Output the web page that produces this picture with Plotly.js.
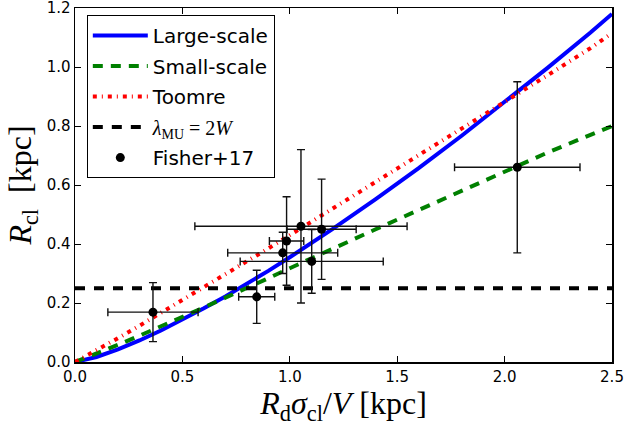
<!DOCTYPE html>
<html>
<head>
<meta charset="utf-8">
<script src="https://cdn.plot.ly/plotly-3.0.1.min.js"></script>
<style>html,body{margin:0;padding:0;background:#fff;}#chart{width:640px;height:428px;}</style>
</head>
<body>
<div id="chart"></div>
<script>
// Model curves
const curveX     = [0, 0.1, 0.2, 0.3, 0.4, 0.5, 0.6, 0.7, 0.8, 0.9, 1.0, 1.2, 1.4, 1.6, 1.8, 2.0, 2.2, 2.4, 2.5];
const largeScale = [0, 0.017, 0.043, 0.073, 0.107, 0.143, 0.182, 0.222, 0.265, 0.309, 0.355, 0.451, 0.552, 0.657, 0.767, 0.880, 0.997, 1.117, 1.18];
const smallScale = [0, 0.028, 0.058, 0.089, 0.120, 0.152, 0.185, 0.218, 0.250, 0.284, 0.318, 0.385, 0.450, 0.515, 0.580, 0.645, 0.710, 0.770, 0.800];
const toomre     = [0, 0.039, 0.081, 0.123, 0.166, 0.209, 0.253, 0.296, 0.341, 0.385, 0.430, 0.520, 0.609, 0.699, 0.790, 0.880, 0.972, 1.064, 1.115];
const muX = [0, 2.5];
const muY = [0.25, 0.25];

// Fisher+17 observations
const obsX    = [0.363, 0.846, 0.967, 0.985, 1.052, 1.102, 1.148, 2.059];
const obsY    = [0.169, 0.221, 0.370, 0.410, 0.460, 0.341, 0.450, 0.660];
const obsXErr = [0.210, 0.084, 0.256, 0.080, 0.494, 0.333, 0.161, 0.292];
const obsYErr = [0.100, 0.090, 0.070, 0.150, 0.260, 0.108, 0.170, 0.290];

const xTicks = [0, 0.5, 1.0, 1.5, 2.0, 2.5];
const xTickText = ['0.0', '0.5', '1.0', '1.5', '2.0', '2.5'];
const yTicks = [0, 0.2, 0.4, 0.6, 0.8, 1.0, 1.2];
const yTickText = ['0.0', '0.2', '0.4', '0.6', '0.8', '1.0', '1.2'];

const serif = 'Liberation Serif, DejaVu Serif, serif';

const traces = [
  {x: curveX, y: largeScale, mode: 'lines', name: 'Large-scale', legendgroup: 'g1',
   line: {color: '#0000ff', width: 4}},
  {x: curveX, y: smallScale, mode: 'lines', name: 'Small-scale', legendgroup: 'g2',
   line: {color: '#008000', width: 4, dash: '10px,8px'}},
  {x: curveX, y: toomre, mode: 'lines', name: 'Toomre', legendgroup: 'g3',
   line: {color: '#ff0000', width: 4, dash: '4px,5px,1px,5px'}},
  {x: muX, y: muY, mode: 'lines', legendgroup: 'g4',
   name: "<span style='font-family:" + serif + "'><i>λ</i><sub>MU</sub> = 2<i>W</i></span>",
   line: {color: '#000000', width: 4, dash: '10px,9px'}},
  {x: obsX, y: obsY, mode: 'markers', name: 'Fisher+17', legendgroup: 'g5',
   marker: {color: '#000000', size: 9},
   error_x: {type: 'data', array: obsXErr, visible: true, color: '#111', thickness: 1.4, width: 4},
   error_y: {type: 'data', array: obsYErr, visible: true, color: '#111', thickness: 1.4, width: 4}}
];

const layout = {
  width: 640, height: 428,
  margin: {l: 75, r: 28, t: 8, b: 66},
  paper_bgcolor: '#ffffff', plot_bgcolor: '#ffffff',
  font: {family: 'DejaVu Sans, sans-serif', color: '#000', size: 15},
  showlegend: true,
  legend: {
    x: 0.022, y: 0.98, xanchor: 'left', yanchor: 'top',
    bgcolor: '#ffffff', bordercolor: '#000000', borderwidth: 1,
    font: {family: 'DejaVu Sans, sans-serif', size: 20, color: '#000'},
    traceorder: 'grouped', tracegroupgap: 1.5, itemwidth: 55
  },
  xaxis: {
    range: [0, 2.5], tickvals: xTicks, ticktext: xTickText,
    ticks: 'inside', ticklen: 6, tickwidth: 1, tickcolor: '#000',
    showline: true, linecolor: '#000', linewidth: 1.5, mirror: 'ticks',
    showgrid: false, zeroline: false, ticklabeloverflow: 'allow',
    tickfont: {size: 15},
    title: {text: '<i>R</i><sub>d</sub><i>σ</i><sub>cl</sub>/<i>V</i> [kpc]', font: {family: serif, size: 32}, standoff: 2}
  },
  yaxis: {
    range: [0, 1.2], tickvals: yTicks, ticktext: yTickText,
    ticks: 'inside', ticklen: 6, tickwidth: 1, tickcolor: '#000',
    showline: true, linecolor: '#000', linewidth: 1.5, mirror: 'ticks',
    showgrid: false, zeroline: false, ticklabeloverflow: 'allow',
    tickfont: {size: 15},
    title: {text: '<i>R</i><sub>cl</sub>&nbsp; [kpc]', font: {family: serif, size: 32}, standoff: 5}
  }
};

Plotly.newPlot('chart', traces, layout, {displayModeBar: false, staticPlot: true});
</script>
</body>
</html>
